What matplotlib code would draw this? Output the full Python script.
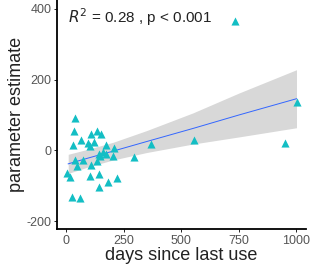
import numpy as np
import matplotlib.pyplot as plt

plt.rcParams['font.family'] = ['Liberation Sans', 'DejaVu Sans']

# days since last use vs parameter estimate
days = [39, 35, 29, 65, 107, 133, 154, 97, 104, 173, 209,
        39, 75, 49, 107, 143, 137, 176, 205, 6, 17, 104, 143,
        183, 222, 143, 25, 61, 296, 371, 554, 951, 1003,
        150, 120, 160]
est = [92, 54, 16, 30, 47, 56, 47, 22, 12, 16, 8,
       -28, -28, -44, -41, -9, -30, -9, -16, -63, -74, -73, -66,
       -89, -77, -103, -131, -134, -19, 17, 28, 21, 136,
       -15, 25, -5]
# the lone triangle next to the label
key_x, key_y = [735], [365]

# fitted line and its grey band
fit_x = [10, 100, 205, 350, 551, 750, 1000]
fit_y = [-38, -21, -2, 25, 62, 100, 146]
band_lo = [-65, -46, -27, -6, 18, 38, 64]
band_hi = [-11, 4, 23, 56, 106, 162, 228]

fig = plt.figure(figsize=(3.11, 2.65), dpi=100)
ax = fig.add_axes([0.183, 0.136, 0.80, 0.864])
ax.fill_between(fit_x, band_lo, band_hi, color='#bebebe', alpha=0.6, lw=0)
ax.plot(fit_x, fit_y, color='#3366FF', lw=0.7)
ax.scatter(days, est, marker='^', s=34, color='#13BEC4', lw=0, zorder=3)
ax.scatter(key_x, key_y, marker='^', s=34, color='#13BEC4', lw=0, zorder=3)

ax.text(0.045, 0.925, r'$R^2$ = 0.28 , p < 0.001', transform=ax.transAxes,
        fontsize=11, color='#222222', va='center', ha='left')

ax.set_xlim(-39, 1040)
ax.set_ylim(-222, 425)
ax.set_xticks([0, 250, 500, 750, 1000])
ax.set_yticks([-200, 0, 200, 400])
ax.set_yticklabels(['-200', '0', '200', '400'])
for sp in ['top', 'right']:
    ax.spines[sp].set_visible(False)
for sp in ['left', 'bottom']:
    ax.spines[sp].set_linewidth(1.3)
ax.tick_params(length=2, width=0.6, labelsize=9, labelcolor='#555555', pad=2)
ax.set_xlabel('days since last use', fontsize=13, color='#222222', labelpad=0)
ax.set_ylabel('parameter estimate', fontsize=13, color='#222222', labelpad=1)

fig.savefig('out.png', dpi=100)
